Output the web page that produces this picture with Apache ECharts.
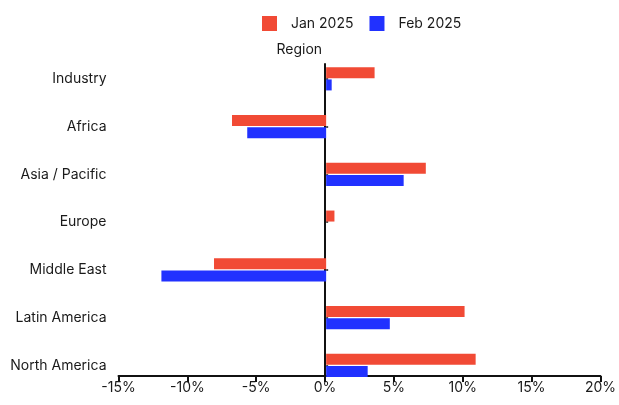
<!DOCTYPE html>
<html>
<head>
<meta charset="utf-8">
<script src="https://cdn.jsdelivr.net/npm/echarts@6/dist/echarts.min.js"></script>
<style>
  html, body { margin: 0; padding: 0; background: #fff; }
  #chart { width: 619px; height: 405px; }
</style>
</head>
<body>
<div id="chart"></div>
<script>
// Regions, top to bottom
const regions = ['Industry', 'Africa', 'Asia / Pacific', 'Europe', 'Middle East', 'Latin America', 'North America'];
// Percentage change by month
const jan2025 = [3.5, -6.8, 7.2, 0.6, -8.1, 10.0, 10.8];
const feb2025 = [0.4, -5.7, 5.6, 0.0, -11.9, 4.6, 3.0];
const seriesNames = ['Jan 2025', 'Feb 2025'];
// Value axis range and step (%)
const xMin = -15, xMax = 20, xStep = 5;

const FONT = 'Inter';
const TEXT = '#1a1a1a';
const RED = '#F14A35';
const BLUE = '#2131FF';

const chart = echarts.init(document.getElementById('chart'), null, { renderer: 'canvas' });

chart.setOption({
  animation: false,
  textStyle: { fontFamily: FONT },
  legend: {
    data: seriesNames,
    left: 257,
    top: 11,
    itemWidth: 15,
    itemHeight: 15,
    itemGap: 16,
    icon: 'rect',
    textStyle: { fontFamily: FONT, fontSize: 14, color: TEXT, padding: [0, 0, 0, 9] }
  },
  grid: [
    // frame: x axis and the vertical zero line
    { left: 118.5, right: 16, top: 64, bottom: 29, containLabel: false },
    // bars and category labels
    { left: 118.5, right: 16, top: 55, bottom: 15.8, containLabel: false }
  ],
  xAxis: [
    {
      gridIndex: 0,
      type: 'value',
      min: xMin, max: xMax, interval: xStep,
      axisLine: { show: true, onZero: false, lineStyle: { color: '#111', width: 2 } },
      axisTick: { show: true, length: 6, lineStyle: { color: '#111', width: 2 } },
      axisLabel: { formatter: '{value}%', color: TEXT, fontSize: 14, fontFamily: FONT, margin: 5 },
      splitLine: { show: false }
    },
    {
      gridIndex: 1,
      type: 'value',
      min: xMin, max: xMax, interval: xStep,
      show: false
    }
  ],
  yAxis: [
    {
      gridIndex: 0,
      type: 'value',
      min: 0, max: 1,
      name: 'Region',
      nameLocation: 'end',
      nameGap: 7,
      nameTextStyle: { color: TEXT, fontSize: 14, fontFamily: FONT, align: 'right', padding: [0, 3, 0, 0] },
      axisLine: { show: true, onZero: true, lineStyle: { color: '#111', width: 2 } },
      axisTick: { show: false },
      axisLabel: { show: false },
      splitLine: { show: false }
    },
    {
      gridIndex: 1,
      type: 'category',
      data: regions,
      inverse: true,
      axisLine: { show: false, onZero: false },
      axisTick: { show: false },
      axisLabel: { color: TEXT, fontSize: 14, fontFamily: FONT, margin: 12 }
    },
    {
      // small ticks at each category on the zero line
      gridIndex: 1,
      type: 'category',
      data: regions,
      inverse: true,
      axisLine: { show: false, onZero: true },
      axisTick: { show: true, alignWithLabel: true, length: 2, lineStyle: { color: '#111', width: 1.5 } },
      axisLabel: { show: false }
    }
  ],
  series: [
    {
      name: seriesNames[0],
      type: 'bar',
      xAxisIndex: 1, yAxisIndex: 1,
      data: jan2025,
      barWidth: 11,
      barGap: '10%',
      itemStyle: { color: RED }
    },
    {
      name: seriesNames[1],
      type: 'bar',
      xAxisIndex: 1, yAxisIndex: 1,
      data: feb2025,
      barWidth: 11,
      barGap: '10%',
      itemStyle: { color: BLUE }
    }
  ]
});
</script>
</body>
</html>
